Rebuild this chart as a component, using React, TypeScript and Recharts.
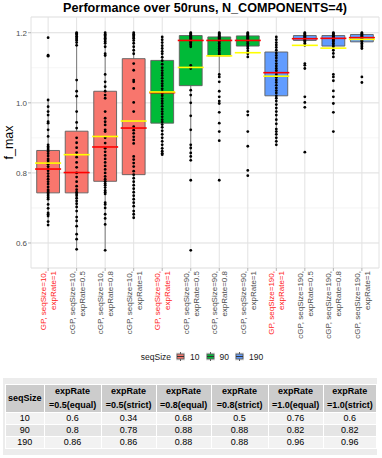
import React from 'react';
import { ComposedChart, Scatter, XAxis, YAxis, CartesianGrid, ReferenceArea, ReferenceLine } from 'recharts';

const xLabels = [
  'GP, seqSize=10,\nexpRate=1',
  'cGP, seqSize=10,\nexpRate=0.5',
  'cGP, seqSize=10,\nexpRate=0.8',
  'cGP, seqSize=10,\nexpRate=1',
  'GP, seqSize=90,\nexpRate=1',
  'cGP, seqSize=90,\nexpRate=0.5',
  'cGP, seqSize=90,\nexpRate=0.8',
  'cGP, seqSize=90,\nexpRate=1',
  'GP, seqSize=190,\nexpRate=1',
  'cGP, seqSize=190,\nexpRate=0.5',
  'cGP, seqSize=190,\nexpRate=0.8',
  'cGP, seqSize=190,\nexpRate=1',
];
const seqSizeOf = [10, 10, 10, 10, 90, 90, 90, 90, 190, 190, 190, 190];

const q1 = [0.743, 0.743, 0.776, 0.795, 0.942, 1.049, 1.134, 1.162, 1.02, 1.178, 1.162, 1.174];
const q3 = [0.864, 0.919, 1.033, 1.126, 1.121, 1.192, 1.188, 1.191, 1.145, 1.192, 1.192, 1.195];
const medians = [0.811, 0.801, 0.874, 0.928, 1.029, 1.178, 1.178, 1.178, 1.086, 1.183, 1.184, 1.186];
const means = [0.828, 0.852, 0.904, 0.948, 1.031, 1.101, 1.134, 1.143, 1.076, 1.164, 1.156, 1.181];
const whiskerLow = [0.651, 0.582, 0.579, 0.672, 0.852, 0.836, 1.074, 1.131, 0.88, 1.164, 1.131, 1.155];
const whiskerHigh = [1.008, 1.2, 1.2, 1.2, 1.188, 1.2, 1.2, 1.2, 1.188, 1.2, 1.2, 1.2];

const p1 = [1.186, 1.136, 1.133, 1.008, 0.989, 0.975, 0.965, 0.946, 0.942, 0.923, 0.904, 0.88, 0.875, 0.871, 0.866, 0.861, 0.855, 0.848, 0.84, 0.835, 0.83, 0.825, 0.818, 0.812, 0.806, 0.798, 0.79, 0.782, 0.775, 0.768, 0.76, 0.752, 0.748, 0.744, 0.74, 0.735, 0.73, 0.725, 0.71, 0.699, 0.686, 0.682, 0.677, 0.661, 0.651];
const p2 = [1.2, 1.198, 1.195, 1.19, 1.186, 1.182, 1.178, 1.172, 1.164, 1.065, 1.033, 1.019, 0.975, 0.944, 0.928, 0.9, 0.886, 0.872, 0.858, 0.845, 0.83, 0.816, 0.8, 0.788, 0.775, 0.762, 0.752, 0.745, 0.74, 0.735, 0.728, 0.72, 0.712, 0.703, 0.691, 0.674, 0.663, 0.648, 0.625, 0.611, 0.582];
const p3 = [1.2, 1.196, 1.192, 1.188, 1.184, 1.18, 1.175, 1.17, 1.16, 1.14, 1.135, 1.081, 1.06, 1.046, 1.033, 1.022, 1.013, 0.975, 0.956, 0.946, 0.937, 0.923, 0.918, 0.9, 0.885, 0.87, 0.86, 0.85, 0.84, 0.83, 0.82, 0.81, 0.8, 0.79, 0.782, 0.776, 0.77, 0.765, 0.758, 0.75, 0.745, 0.74, 0.715, 0.71, 0.7, 0.682, 0.67, 0.653, 0.579];
const p4 = [1.2, 1.196, 1.192, 1.188, 1.184, 1.178, 1.17, 1.16, 1.15, 1.14, 1.112, 1.093, 1.065, 1.06, 1.041, 1.001, 0.975, 0.932, 0.922, 0.913, 0.903, 0.894, 0.884, 0.847, 0.838, 0.828, 0.818, 0.805, 0.795, 0.785, 0.775, 0.765, 0.755, 0.745, 0.735, 0.725, 0.715, 0.705, 0.691, 0.682, 0.672];
const p5 = [1.188, 1.18, 1.172, 1.163, 1.155, 1.147, 1.14, 1.13, 1.12, 1.11, 1.1, 1.092, 1.085, 1.078, 1.07, 1.062, 1.055, 1.048, 1.04, 1.032, 1.026, 1.02, 1.012, 1.005, 0.998, 0.99, 0.982, 0.975, 0.968, 0.96, 0.952, 0.945, 0.938, 0.93, 0.92, 0.91, 0.9, 0.89, 0.88, 0.87, 0.862, 0.856, 0.852];
const p6 = [1.2, 1.198, 1.195, 1.192, 1.19, 1.187, 1.184, 1.181, 1.178, 1.175, 1.172, 1.168, 1.165, 1.16, 1.107, 1.098, 1.036, 1.022, 1.0, 0.963, 0.923, 0.88, 0.871, 0.857, 0.847, 0.836, 0.779, 0.579];
const p7 = [1.2, 1.198, 1.195, 1.192, 1.19, 1.187, 1.184, 1.181, 1.178, 1.175, 1.17, 1.165, 1.16, 1.155, 1.15, 1.145, 1.14, 1.137, 1.081, 1.074, 1.06, 1.033, 1.017, 1.005, 0.998, 0.973, 0.942, 0.918, 0.892, 0.779];
const p8 = [1.2, 1.198, 1.195, 1.192, 1.19, 1.187, 1.184, 1.181, 1.178, 1.175, 1.17, 1.165, 1.16, 1.155, 1.148, 1.14, 1.131, 0.975, 0.965, 0.918, 0.876, 0.807, 0.792];
const p9 = [1.188, 1.18, 1.172, 1.165, 1.158, 1.15, 1.142, 1.135, 1.128, 1.12, 1.112, 1.105, 1.098, 1.092, 1.086, 1.08, 1.072, 1.065, 1.058, 1.05, 1.042, 1.035, 1.028, 1.02, 1.013, 1.005, 0.995, 0.985, 0.975, 0.965, 0.952, 0.94, 0.925, 0.918, 0.91, 0.9, 0.89, 0.88];
const p10 = [1.2, 1.198, 1.195, 1.192, 1.19, 1.187, 1.184, 1.181, 1.178, 1.175, 1.17, 1.164, 1.112, 1.107, 1.098, 1.017, 1.001, 0.987, 0.859];
const p11 = [1.2, 1.198, 1.195, 1.192, 1.19, 1.187, 1.184, 1.181, 1.178, 1.175, 1.17, 1.165, 1.16, 1.15, 1.141, 1.131, 1.081, 1.074, 1.063, 1.034, 1.017, 0.998, 0.973, 0.918];
const p12 = [1.2, 1.198, 1.195, 1.192, 1.19, 1.187, 1.184, 1.181, 1.178, 1.175, 1.17, 1.165, 1.16, 1.155, 1.074, 1.058];
const pointsByCat = [p1, p2, p3, p4, p5, p6, p7, p8, p9, p10, p11, p12];

const yTicks = [0.6, 0.8, 1.0, 1.2];
const yMinorTicks = [0.6, 0.7, 0.8, 0.9, 1.0, 1.1, 1.2];
const yDomain = [0.5286, 1.2449];

const legendLevels = ['10', '90', '190'];
const seqColors: Record<string, string> = { '10': '#F8766D', '90': '#00BA38', '190': '#619CFF' };

const tableHeader = ['seqSize', 'expRate\n=0.5(equal)', 'expRate\n=0.5(strict)', 'expRate\n=0.8(equal)', 'expRate\n=0.8(strict)', 'expRate\n=1.0(equal)', 'expRate\n=1.0(strict)'];
const tableSeq = ['10', '90', '190'];
const tableRows = [
  ['0.6', '0.34', '0.68', '0.5', '0.76', '0.6'],
  ['0.8', '0.78', '0.88', '0.88', '0.82', '0.82'],
  ['0.86', '0.86', '0.88', '0.88', '0.96', '0.96'],
];
const colWidths = [38, 57, 55, 55, 57, 55, 53];

const FONT = '"Liberation Sans", Arial, Helvetica, sans-serif';
const BOX_HALF = 0.4;
const BORDER = '#5e5e5e';

const pointData = pointsByCat.flatMap((arr, i) => arr.map((v) => ({ x: i, y: v })));
const medianData = medians.map((v, i) => ({ x: i, y: v }));
const meanData = means.map((v, i) => ({ x: i, y: v }));

function XTick(props: any) {
  const { x, y, payload } = props;
  const [l1, l2] = xLabels[payload.value].split('\n');
  const col = l1.startsWith('GP') ? '#ff1a1a' : '#4d4d4d';
  const a = x - 2;
  const b = x + 8;
  return (
    <g>
      <text x={a} y={y} transform={`rotate(-90 ${a} ${y})`} textAnchor="end" fontSize={8} fill={col} fontFamily={FONT}>{l1}</text>
      <text x={b} y={y} transform={`rotate(-90 ${b} ${y})`} textAnchor="end" fontSize={8} fill={col} fontFamily={FONT}>{l2}</text>
    </g>
  );
}

const lineShape = (color: string) => (p: any) => (
  <line x1={p.cx - 13} x2={p.cx + 13} y1={p.cy} y2={p.cy} stroke={color} strokeWidth={1.6} />
);

function KeyGlyph({ color }: { color: string }) {
  return (
    <svg width={9} height={9} style={{ display: 'block' }}>
      <rect x={0} y={0} width={9} height={9} fill="#f2f2f2" />
      <line x1={4.5} x2={4.5} y1={0} y2={9} stroke={BORDER} strokeWidth={1} />
      <rect x={1} y={2} width={7} height={5} fill={color} stroke={BORDER} strokeWidth={1} />
      <line x1={1} x2={8} y1={4.5} y2={4.5} stroke="#333" strokeWidth={1} />
    </svg>
  );
}

export default function App() {
  return (
    <div style={{ position: 'absolute', left: 0, top: 0, width: 382, height: 458, background: '#fff', fontFamily: FONT, overflow: 'hidden' }}>
      <div style={{ position: 'absolute', left: 31, top: 1, width: 348, textAlign: 'center', fontWeight: 'bold', fontSize: 12.6, color: '#000', whiteSpace: 'nowrap' }}>
        Performance over 50runs, N_COMPONENTS=4)
      </div>
      <div style={{ position: 'absolute', left: 0, top: 0 }}>
        <ComposedChart width={382} height={345} margin={{ top: 17, right: 3, bottom: 0, left: 0 }}>
          <CartesianGrid yAxisId="minor" horizontal={true} vertical={false} stroke="#efefef" strokeWidth={0.6} />
          <CartesianGrid stroke="#e2e2e2" strokeWidth={1} />
          <XAxis
            type="number"
            dataKey="x"
            domain={[-0.6, 11.6]}
            ticks={xLabels.map((_, i) => i)}
            interval={0}
            allowDataOverflow
            height={77}
            tickSize={3}
            tickMargin={0}
            axisLine={false}
            tickLine={{ stroke: '#b3b3b3' }}
            tick={<XTick />}
          />
          <YAxis
            type="number"
            domain={yDomain}
            ticks={yTicks}
            allowDataOverflow
            width={31}
            tickSize={3}
            tickMargin={1}
            axisLine={false}
            tickLine={{ stroke: '#b3b3b3' }}
            tick={{ fontSize: 8, fill: '#4d4d4d', fontFamily: FONT }}
            tickFormatter={(v: number) => v.toFixed(1)}
          />
          <YAxis yAxisId="minor" type="number" domain={yDomain} ticks={yMinorTicks} allowDataOverflow hide />
          {q1.map((lo, i) => (
            <ReferenceLine key={`wl${i}`} segment={[{ x: i, y: whiskerLow[i] }, { x: i, y: lo }]} stroke={BORDER} strokeWidth={0.8} ifOverflow="visible" />
          ))}
          {q3.map((hi, i) => (
            <ReferenceLine key={`wh${i}`} segment={[{ x: i, y: hi }, { x: i, y: whiskerHigh[i] }]} stroke={BORDER} strokeWidth={0.8} ifOverflow="visible" />
          ))}
          {q1.map((lo, i) => (
            <ReferenceArea
              key={`box${i}`}
              x1={i - BOX_HALF}
              x2={i + BOX_HALF}
              y1={lo}
              y2={q3[i]}
              fill={seqColors[String(seqSizeOf[i])]}
              fillOpacity={1}
              stroke={BORDER}
              strokeWidth={1}
              strokeOpacity={0.9}
              ifOverflow="visible"
            />
          ))}
          <ReferenceArea fill="none" fillOpacity={0} stroke="#b3b3b3" strokeWidth={1} />
          <Scatter
            data={pointData}
            dataKey="y"
            isAnimationActive={false}
            shape={(p: any) => <circle cx={p.cx} cy={p.cy} r={1.4} fill="#000" />}
          />
          <Scatter data={medianData} dataKey="y" isAnimationActive={false} shape={lineShape('#ff0000')} />
          <Scatter data={meanData} dataKey="y" isAnimationActive={false} shape={lineShape('#ffff00')} />
        </ComposedChart>
      </div>
      <svg width={382} height={345} style={{ position: 'absolute', left: 0, top: 0, pointerEvents: 'none' }}>
        <text x={13} y={142.5} transform="rotate(-90 13 142.5)" textAnchor="middle" fontSize={12.5} fill="#000" fontFamily={FONT}>f_max</text>
      </svg>
      <div style={{ position: 'absolute', left: 31, top: 351, width: 348, height: 11, display: 'flex', justifyContent: 'center', alignItems: 'center', fontSize: 8.5, color: '#1a1a1a' }}>
        <span style={{ marginRight: 5 }}>seqSize</span>
        {legendLevels.map((lv) => (
          <React.Fragment key={lv}>
            <KeyGlyph color={seqColors[lv]} />
            <span style={{ marginLeft: 5, marginRight: 6 }}>{lv}</span>
          </React.Fragment>
        ))}
      </div>
      <div style={{ position: 'absolute', left: 3, top: 378, width: 374, height: 77, background: '#ececec' }}>
        <table style={{ position: 'absolute', left: 2, top: 6, borderCollapse: 'collapse', fontSize: 9, color: '#000', fontFamily: FONT }}>
          <tbody>
            <tr style={{ background: '#cccccc', height: 27 }}>
              {tableHeader.map((h, i) => (
                <td key={h} style={{ width: colWidths[i], padding: 0, textAlign: 'center', fontWeight: 'bold', lineHeight: '13.5px', border: '1px solid #fff', whiteSpace: 'pre' }}>{h}</td>
              ))}
            </tr>
            {tableRows.map((row, r) => (
              <tr key={r} style={{ background: r % 2 === 0 ? '#f2f2f2' : '#e5e5e5', height: 11.8 }}>
                <td style={{ padding: 0, textAlign: 'center', lineHeight: '11px', border: '1px solid #fff' }}>{tableSeq[r]}</td>
                {row.map((c, j) => (
                  <td key={j} style={{ padding: 0, textAlign: 'center', lineHeight: '11px', border: '1px solid #fff' }}>{c}</td>
                ))}
              </tr>
            ))}
          </tbody>
        </table>
      </div>
    </div>
  );
}
